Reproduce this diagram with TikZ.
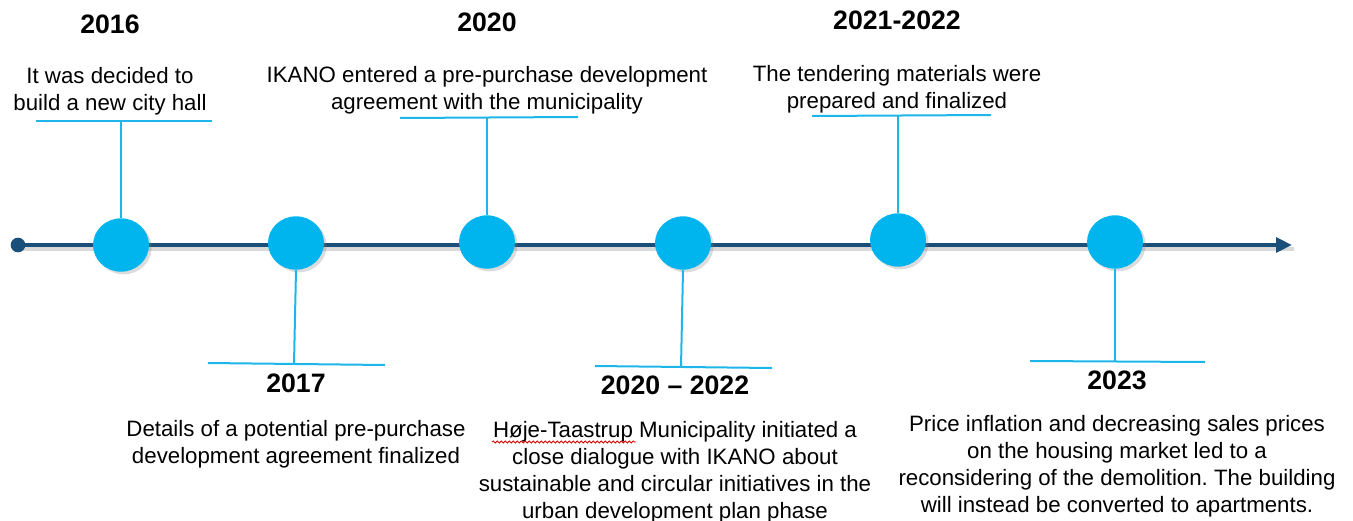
\documentclass[tikz,border=0pt]{standalone}
\usepackage{fontspec}
\setmainfont{Liberation Sans}
\frenchspacing
\usetikzlibrary{shadows,decorations.pathmorphing,arrows.meta,shapes.geometric}
\definecolor{axisblue}{HTML}{1A4F7A}
\definecolor{dotblue}{HTML}{00B4EE}
\definecolor{leadblue}{HTML}{1CB6EA}
\tikzset{
  x=0.75pt, y=-0.75pt,
  axis/.style={line width=3.6pt, draw=axisblue},
  event/.style={ellipse, minimum width=42pt, minimum height=40pt, inner sep=0pt,
    fill=dotblue, drop shadow={opacity=0.28, shadow xshift=2pt, shadow yshift=-2pt}},
  bar/.style={draw=leadblue, line width=1.5pt},
  lead/.style={draw=leadblue, line width=1.5pt},
  year/.style={font=\fontsize{20}{22}\selectfont\bfseries, inner sep=0pt},
  desc/.style={font=\fontsize{16.7}{20.2}\selectfont, align=center, inner sep=0pt},
}
\begin{document}
\begin{tikzpicture}
\useasboundingbox (0,0) rectangle (1353,521);

% timeline axis with a soft shadow
\coordinate (start) at (18,245);
\coordinate (tip) at (1292,245);
\draw[line width=3.6pt, draw=black, opacity=0.15] ([shift={(2,4)}]start) -- ([shift={(2,4)}]tip);
\draw[axis, -{Triangle[length=12pt,width=11pt]}] (start) -- (tip);
\fill[axisblue] (start) circle (5.5pt);

% event dots
\node[event] (c1) at (121,245) {};
\node[event] (c2) at (296,243) {};
\node[event] (c3) at (487,242) {};
\node[event] (c4) at (683,243) {};
\node[event] (c5) at (898,240) {};
\node[event] (c6) at (1115,242) {};

% label bars above the axis
\coordinate (b1l) at (36,121);  \coordinate (b1r) at (212,121); \coordinate (b1) at (121,121);
\coordinate (b3l) at (400,118); \coordinate (b3r) at (578,117); \coordinate (b3) at (487,118);
\coordinate (b5l) at (812,116); \coordinate (b5r) at (991,115); \coordinate (b5) at (898,116);
% label bars below the axis
\coordinate (b2l) at (208,363); \coordinate (b2r) at (385,365); \coordinate (b2) at (294,364);
\coordinate (b4l) at (595,366); \coordinate (b4r) at (772,368); \coordinate (b4) at (681,367);
\coordinate (b6l) at (1030,361); \coordinate (b6r) at (1205,362); \coordinate (b6) at (1115,361);

\foreach \i in {1,...,6}{\draw[bar] (b\i l) -- (b\i r);}
\draw[lead] (b1) -- (c1.north);
\draw[lead] (b3) -- (c3.north);
\draw[lead] (b5) -- (c5.north);
\draw[lead] (c2.south) -- (b2);
\draw[lead] (c4.south) -- (b4);
\draw[lead] (c6.south) -- (b6);

% years
\node[year] (y1) at (110,24) {2016};
\node[year] (y3) at (487,22) {2020};
\node[year] (y5) at (897,20) {2021-2022};
\node[year] (y2) at (296,383) {2017};
\node[year] (y4) at (675,385) {2020 – 2022};
\node[year] (y6) at (1117,380) {2023};

% descriptions
\node[desc] (t1) at (110,91) {It was decided to\\build a new city hall};
\node[desc] (t3) at (487,90) {IKANO entered a pre-purchase development\\agreement with the municipality};
\node[desc] (t5) at (897,89) {The tendering materials were\\prepared and finalized};
\node[desc] (t2) at (296,444) {Details of a potential pre-purchase\\development agreement finalized};
\node[desc] (t4) at (675,472) {Høje-Taastrup Municipality initiated a\\close dialogue with IKANO about\\sustainable and circular initiatives in the\\urban development plan phase};
\node[desc] (t6) at (1117,466) {Price inflation and decreasing sales prices\\on the housing market led to a\\reconsidering of the demolition. The building\\will instead be converted to apartments.};

% spell-check squiggle under the place name
\coordinate (sq1) at (492,442);
\coordinate (sq2) at (636,442);
\draw[red!85!black, line width=0.6pt, decorate,
  decoration={snake, amplitude=0.8pt, segment length=3pt}] (sq1) -- (sq2);
\end{tikzpicture}
\end{document}
